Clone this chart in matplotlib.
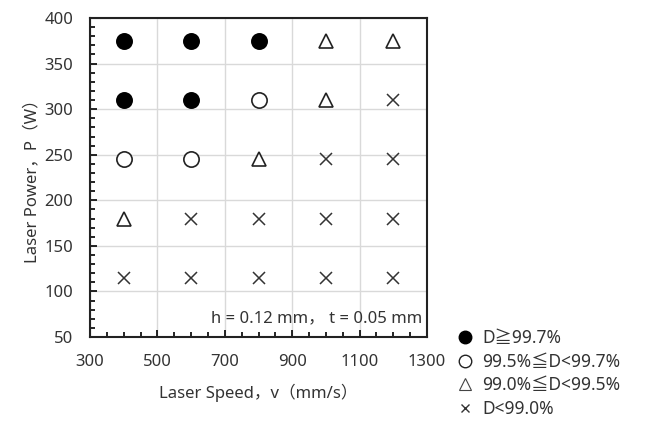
import matplotlib
matplotlib.use("Agg")
import matplotlib.pyplot as plt
from matplotlib.ticker import MultipleLocator
from matplotlib.lines import Line2D

plt.rcParams["font.family"] = ["Noto Sans", "Noto Sans CJK JP", "DejaVu Sans"]

# 造形条件 (速度 x 出力) と密度区分
speeds = [400, 600, 800, 1000, 1200]
powers = [375, 310, 245, 180, 115]
# 行: 出力 (上から), 列: 速度  A: D≧99.7, B: 99.5≦D<99.7, C: 99.0≦D<99.5, X: D<99.0
grades = [
    ["A", "A", "A", "C", "C"],
    ["A", "A", "B", "C", "X"],
    ["B", "B", "C", "X", "X"],
    ["C", "X", "X", "X", "X"],
    ["X", "X", "X", "X", "X"],
]
labels = {
    "A": "D≧99.7%",
    "B": "99.5%≦D<99.7%",
    "C": "99.0%≦D<99.5%",
    "X": "D<99.0%",
}
xticks = [300, 500, 700, 900, 1100, 1300]

styles = {
    "A": dict(marker="o", ms=11, mfc="black", mec="black", mew=1.2),
    "B": dict(marker="o", ms=11, mfc="white", mec="#222222", mew=1.2),
    "C": dict(marker="^", ms=10, mfc="white", mec="#222222", mew=1.2),
    "X": dict(marker="x", ms=9, mfc="none", mec="#333333", mew=1.1),
}

fig = plt.figure(figsize=(6.58, 4.22), dpi=100)
ax = fig.add_axes([0.1368, 0.2014, 0.5122, 0.7559])

for i, p in enumerate(powers):
    for j, v in enumerate(speeds):
        ax.plot([v], [p], linestyle="none", zorder=3, **styles[grades[i][j]])

ax.set_xlim(300, 1300)
ax.set_ylim(50, 400)
ax.set_xticks(xticks)
ax.xaxis.set_minor_locator(MultipleLocator(50))
ax.yaxis.set_major_locator(MultipleLocator(50))
ax.yaxis.set_minor_locator(MultipleLocator(10))
ax.grid(True, which="major", color="#d9d9d9", linewidth=1.0, zorder=0)
ax.set_axisbelow(True)
ax.tick_params(which="both", direction="in", colors="black", labelcolor="#333333",
               labelsize=12, top=False, right=False)
ax.tick_params(which="major", length=5, width=1.2)
ax.tick_params(which="minor", length=3.5, width=1.2)
ax.tick_params(axis="y", which="major", pad=12)
ax.tick_params(axis="x", which="major", pad=12)
for s in ax.spines.values():
    s.set_linewidth(1.5)
    s.set_color("#222222")

ax.set_xlabel("Laser Speed，v（mm/s）", fontsize=12, color="#333333", labelpad=10)
ax.set_ylabel("Laser Power，P（W）", fontsize=12, color="#333333", labelpad=3)

ax.text(0.985, 0.035, "h = 0.12 mm， t = 0.05 mm", transform=ax.transAxes,
        ha="right", va="bottom", fontsize=12, color="#333333")

# 凡例 (グラフ右下の外側)
leg_styles = {
    "A": dict(marker="o", ms=9, mfc="black", mec="black", mew=1.0),
    "B": dict(marker="o", ms=9, mfc="white", mec="#222222", mew=1.0),
    "C": dict(marker="^", ms=8, mfc="white", mec="#444444", mew=0.8),
    "X": dict(marker="x", ms=6, mfc="none", mec="#333333", mew=1.0),
}
handles = [Line2D([], [], linestyle="none", **leg_styles[k]) for k in ["A", "B", "C", "X"]]
fig.legend(handles, [labels[k] for k in ["A", "B", "C", "X"]],
           loc="upper left", bbox_to_anchor=(0.68, 0.236), frameon=False,
           fontsize=12.5, handletextpad=0.4, labelspacing=0.32,
           handlelength=1.2, labelcolor="#333333", borderaxespad=0)

fig.savefig("out.png", dpi=100)
